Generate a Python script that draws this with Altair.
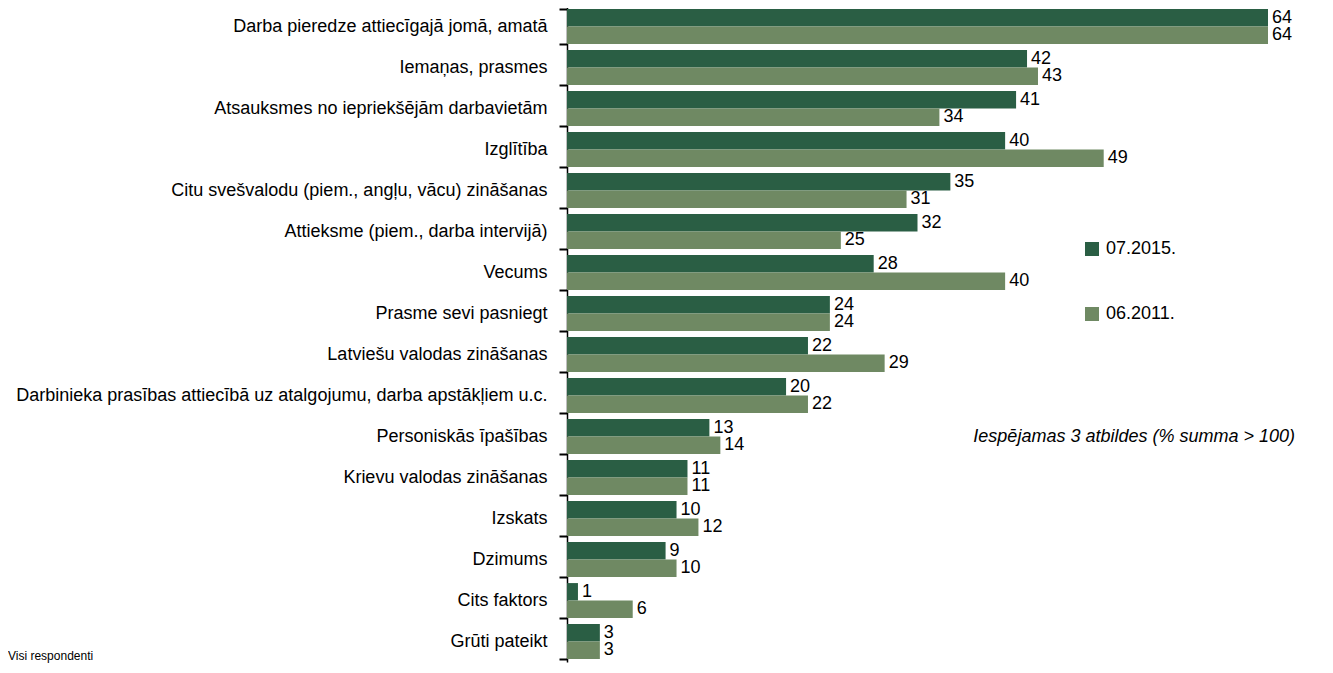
import altair as alt
import pandas as pd

categories = [
    "Darba pieredze attiecīgajā jomā, amatā",
    "Iemaņas, prasmes",
    "Atsauksmes no iepriekšējām darbavietām",
    "Izglītība",
    "Citu svešvalodu (piem., angļu, vācu) zināšanas",
    "Attieksme (piem., darba intervijā)",
    "Vecums",
    "Prasme sevi pasniegt",
    "Latviešu valodas zināšanas",
    "Darbinieka prasības attiecībā uz atalgojumu, darba apstākļiem u.c.",
    "Personiskās īpašības",
    "Krievu valodas zināšanas",
    "Izskats",
    "Dzimums",
    "Cits faktors",
    "Grūti pateikt",
]
values_2015 = [64, 42, 41, 40, 35, 32, 28, 24, 22, 20, 13, 11, 10, 9, 1, 3]
values_2011 = [64, 43, 34, 49, 31, 25, 40, 24, 29, 22, 14, 11, 12, 10, 6, 3]
series = ["07.2015.", "06.2011."]
colors = ["#2A5E44", "#6F8963"]

rows = []
for c, a, b in zip(categories, values_2015, values_2011):
    rows.append({"cat": c, "series": series[0], "value": a})
    rows.append({"cat": c, "series": series[1], "value": b})
df = pd.DataFrame(rows)

FONT = "Liberation Sans, Arial"
H = 656

y_enc = alt.Y(
    "cat:N",
    sort=categories,
    title=None,
    scale=alt.Scale(paddingInner=0.15, paddingOuter=0.075),
    axis=alt.Axis(
        ticks=True,
        tickBand="extent",
        tickColor="#000000",
        tickSize=8,
        tickWidth=2,
        domainColor="#000000",
        domainWidth=1.5,
        labelPadding=12,
        labelFontSize=18,
        labelFont=FONT,
        labelColor="black",
        labelLimit=700,
    ),
)
yoff = alt.YOffset("series:N", sort=series)
x_enc = alt.X("value:Q", scale=alt.Scale(domain=[0, 64], nice=False), axis=None)

bars = alt.Chart(df).mark_bar().encode(
    y=y_enc,
    yOffset=yoff,
    x=x_enc,
    color=alt.Color(
        "series:N",
        sort=series,
        scale=alt.Scale(domain=series, range=colors),
        legend=alt.Legend(
            title=None,
            orient="none",
            legendX=516,
            legendY=234,
            symbolType="square",
            symbolSize=196,
            symbolStrokeWidth=0,
            symbolOpacity=1,
            labelFontSize=18,
            labelFont=FONT,
            labelColor="black",
            rowPadding=47,
            labelOffset=5,
        ),
    ),
)

labels = alt.Chart(df).mark_text(
    align="left", baseline="middle", dx=4, dy=0, fontSize=18, font=FONT, color="black"
).encode(
    y=alt.Y("cat:N", sort=categories),
    yOffset=yoff,
    x="value:Q",
    text="value:Q",
)

note_df = pd.DataFrame({"t": ["Iespējamas 3 atbildes (% summa > 100)"]})
note = alt.Chart(note_df).mark_text(
    align="right", baseline="middle", fontSize=18, font=FONT, fontStyle="italic", color="black"
).encode(x=alt.value(728), y=alt.value(431), text="t:N")

foot_df = pd.DataFrame({"t": ["Visi respondenti"]})
foot = alt.Chart(foot_df).mark_text(
    align="left", baseline="middle", fontSize=12, font=FONT, color="black"
).encode(x=alt.value(-559), y=alt.value(650), text="t:N")

chart = alt.layer(bars, labels, note, foot).properties(
    width=701,
    height=H,
    autosize=alt.AutoSizeParams(type="none"),
    padding={"left": 559, "top": -2, "right": 50, "bottom": 3},
).configure_view(stroke=None)

chart.save("out.html", embed_options={"renderer": "svg", "actions": False})
